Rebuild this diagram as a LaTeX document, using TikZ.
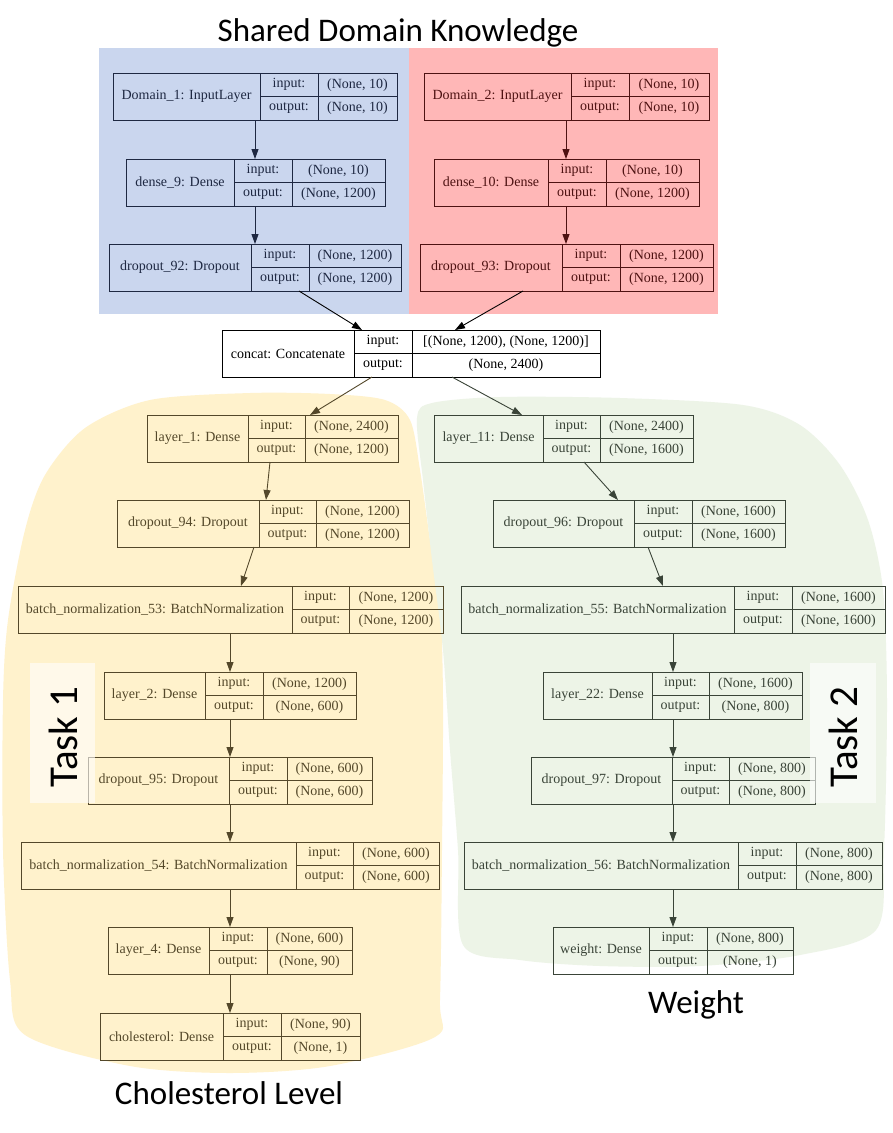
\documentclass[tikz,border=0pt]{standalone}
\usepackage{fontspec}
\setmainfont{Liberation Serif}
\newfontfamily\calib{Carlito}
\usetikzlibrary{arrows.meta}
\definecolor{bgblue}{RGB}{202,214,238}
\definecolor{bgpink}{RGB}{255,183,183}
\definecolor{bgyellow}{RGB}{255,242,204}
\definecolor{bggreen}{RGB}{237,244,231}
\definecolor{lnblue}{RGB}{30,40,66}
\definecolor{lnpink}{RGB}{78,18,18}
\definecolor{lnyellow}{RGB}{84,72,42}
\definecolor{lngreen}{RGB}{58,68,56}
\colorlet{lc}{black}
\tikzset{
  kbox/.style={draw=lc, line width=0.9pt, minimum height=47pt, inner sep=0pt, outer sep=0pt},
  kline/.style={draw=lc, line width=0.9pt},
  ktxt/.style={text=lc, font=\fontsize{14}{16}\selectfont, inner sep=0pt, anchor=center},
  karr/.style={draw=lc, line width=0.9pt, -{Triangle[length=10pt,width=7pt]}},
  bigtxt/.style={font=\calib\fontsize{33}{40}\selectfont, inner sep=0pt},
  tasktxt/.style={font=\calib\fontsize{41}{48}\selectfont, inner sep=0pt, rotate=90},
  taskbg/.style={fill=white, fill opacity=0.6, draw=none}
}
\newcommand{\kn}[9]{%
  \node[kbox, minimum width={(#5-#2)*1pt}, anchor=north west] (#1) at (#2,#6) {};
  \draw[kline] (#3,#6) -- (#3,{#6+47});
  \draw[kline] (#4,#6) -- (#4,{#6+47});
  \draw[kline] (#3,{#6+23.5}) -- (#5,{#6+23.5});
  \node[ktxt] (#1-name) at ({(#2+#3)/2},{#6+23.5}) {#7};
  \node[ktxt] (#1-in) at ({(#3+#4)/2},{#6+11.75}) {input:};
  \node[ktxt] (#1-out) at ({(#3+#4)/2},{#6+35.25}) {output:};
  \node[ktxt] (#1-iv) at ({(#4+#5)/2},{#6+11.75}) {#8};
  \node[ktxt] (#1-ov) at ({(#4+#5)/2},{#6+35.25}) {#9};
}
\begin{document}
\begin{tikzpicture}[x=1pt,y=-1pt]
\useasboundingbox (0,0) rectangle (893,1133);
\fill[white] (0,0) rectangle (893,1133);
% backgrounds
\fill[bgblue] (99,48) rectangle (409,314);
\fill[bgpink] (409,48) rectangle (718,314);
\fill[bgyellow] plot[smooth cycle, tension=0.5] coordinates {
 (150,400) (250,393) (330,394) (385,400) (410,420) (420,470) (430,540) (440,600)
 (443,700) (442,850) (440,1000) (435,1037) (330,1066) (230,1073) (130,1066)
 (25,1035) (10,980) (3,850) (3,700) (8,620) (25,530) (45,475) (85,428)};
\fill[bggreen] plot[smooth cycle, tension=0.5] coordinates {
 (417,418) (432,403) (500,397) (620,398) (743,405) (800,425) (840,465) (868,520)
 (883,590) (887,700) (884,850) (876,930) (800,955) (700,966) (600,966) (520,960)
 (463,945) (458,850) (450,750) (443,650) (432,560) (423,480)};
% titles
\node[bigtxt, anchor=base] (title) at (398,41) {Shared Domain Knowledge};
\node[bigtxt, anchor=base] (chol) at (229,1104) {Cholesterol Level};
\node[bigtxt, anchor=base] (wlab) at (696,1013) {Weight};
% shared blue
\begin{scope}
\colorlet{lc}{lnblue}
\kn{dom1}{113}{260}{318}{397}{73}{Domain\_1: InputLayer}{(None, 10)}{(None, 10)}
\kn{dense9}{126}{234}{292}{385}{159}{dense\_9: Dense}{(None, 10)}{(None, 1200)}
\kn{drop92}{109}{251}{309}{401}{244}{dropout\_92: Dropout}{(None, 1200)}{(None, 1200)}
\draw[karr] ([xshift=142pt]dom1.south west) -- ([xshift=129pt]dense9.north west);
\draw[karr] ([xshift=129pt]dense9.south west) -- ([xshift=146pt]drop92.north west);
\end{scope}
% shared pink
\begin{scope}
\colorlet{lc}{lnpink}
\kn{dom2}{424}{571}{629}{709}{73}{Domain\_2: InputLayer}{(None, 10)}{(None, 10)}
\kn{dense10}{434}{548}{606}{699}{159}{dense\_10: Dense}{(None, 10)}{(None, 1200)}
\kn{drop93}{420}{562}{620}{713}{244}{dropout\_93: Dropout}{(None, 1200)}{(None, 1200)}
\draw[karr] ([xshift=142pt]dom2.south west) -- ([xshift=132pt]dense10.north west);
\draw[karr] ([xshift=132pt]dense10.south west) -- ([xshift=146pt]drop93.north west);
\end{scope}
% concat
\begin{scope}
\colorlet{lc}{black}
\kn{concat}{222}{354}{412}{600}{330}{concat: Concatenate}{[(None, 1200), (None, 1200)]}{(None, 2400)}
\draw[karr] ([xshift=190pt]drop92.south west) -- ([xshift=140pt]concat.north west);
\draw[karr] ([xshift=103pt]drop93.south west) -- ([xshift=233pt]concat.north west);
\end{scope}
% task 1 (yellow)
\begin{scope}
\colorlet{lc}{lnyellow}
\kn{layer1}{147}{248}{305}{398}{415}{layer\_1: Dense}{(None, 2400)}{(None, 1200)}
\kn{drop94}{117}{259}{316}{409}{500}{dropout\_94: Dropout}{(None, 1200)}{(None, 1200)}
\kn{bn53}{18}{292}{349}{443}{586}{batch\_normalization\_53: BatchNormalization}{(None, 1200)}{(None, 1200)}
\kn{layer2}{104}{205}{263}{356}{672}{layer\_2: Dense}{(None, 1200)}{(None, 600)}
\kn{drop95}{88}{229}{287}{372}{757}{dropout\_95: Dropout}{(None, 600)}{(None, 600)}
\kn{bn54}{21}{296}{353}{439}{842}{batch\_normalization\_54: BatchNormalization}{(None, 600)}{(None, 600)}
\kn{layer4}{108}{209}{267}{352}{927}{layer\_4: Dense}{(None, 600)}{(None, 90)}
\kn{cholnode}{100}{223}{281}{360}{1013}{cholesterol: Dense}{(None, 90)}{(None, 1)}
\draw[karr] ([xshift=150pt]concat.south west) -- ([xshift=163pt]layer1.north west);
\draw[karr] ([xshift=123pt]layer1.south west) -- ([xshift=149pt]drop94.north west);
\draw[karr] ([xshift=137pt]drop94.south west) -- ([xshift=223pt]bn53.north west);
\draw[karr] ([xshift=212pt]bn53.south west) -- ([xshift=126pt]layer2.north west);
\draw[karr] ([xshift=126pt]layer2.south west) -- ([xshift=142pt]drop95.north west);
\draw[karr] ([xshift=142pt]drop95.south west) -- ([xshift=209pt]bn54.north west);
\draw[karr] ([xshift=209pt]bn54.south west) -- ([xshift=122pt]layer4.north west);
\draw[karr] ([xshift=122pt]layer4.south west) -- ([xshift=130pt]cholnode.north west);
\end{scope}
% task 2 (green)
\begin{scope}
\colorlet{lc}{lngreen}
\kn{layer11}{434}{543}{600}{693}{415}{layer\_11: Dense}{(None, 2400)}{(None, 1600)}
\kn{drop96}{493}{634}{692}{785}{500}{dropout\_96: Dropout}{(None, 1600)}{(None, 1600)}
\kn{bn55}{461}{734}{792}{885}{586}{batch\_normalization\_55: BatchNormalization}{(None, 1600)}{(None, 1600)}
\kn{layer22}{543}{652}{709}{802}{672}{layer\_22: Dense}{(None, 1600)}{(None, 800)}
\kn{drop97}{531}{672}{729}{815}{757}{dropout\_97: Dropout}{(None, 800)}{(None, 800)}
\kn{bn56}{464}{738}{796}{882}{842}{batch\_normalization\_56: BatchNormalization}{(None, 800)}{(None, 800)}
\kn{weightnode}{553}{649}{707}{793}{927}{weight: Dense}{(None, 800)}{(None, 1)}
\draw[karr] ([xshift=230pt]concat.south west) -- ([xshift=88pt]layer11.north west);
\draw[karr] ([xshift=150pt]layer11.south west) -- ([xshift=125pt]drop96.north west);
\draw[karr] ([xshift=155pt]drop96.south west) -- ([xshift=202pt]bn55.north west);
\draw[karr] ([xshift=212pt]bn55.south west) -- ([xshift=130pt]layer22.north west);
\draw[karr] ([xshift=130pt]layer22.south west) -- ([xshift=142pt]drop97.north west);
\draw[karr] ([xshift=142pt]drop97.south west) -- ([xshift=209pt]bn56.north west);
\draw[karr] ([xshift=209pt]bn56.south west) -- ([xshift=120pt]weightnode.north west);
\end{scope}
% task labels
\fill[taskbg] (30,663) rectangle (95,803);
\fill[taskbg] (810,663) rectangle (876,803);
\node[tasktxt] (task1) at (63,737) {Task 1};
\node[tasktxt] (task2) at (843,737) {Task 2};
\end{tikzpicture}
\end{document}
